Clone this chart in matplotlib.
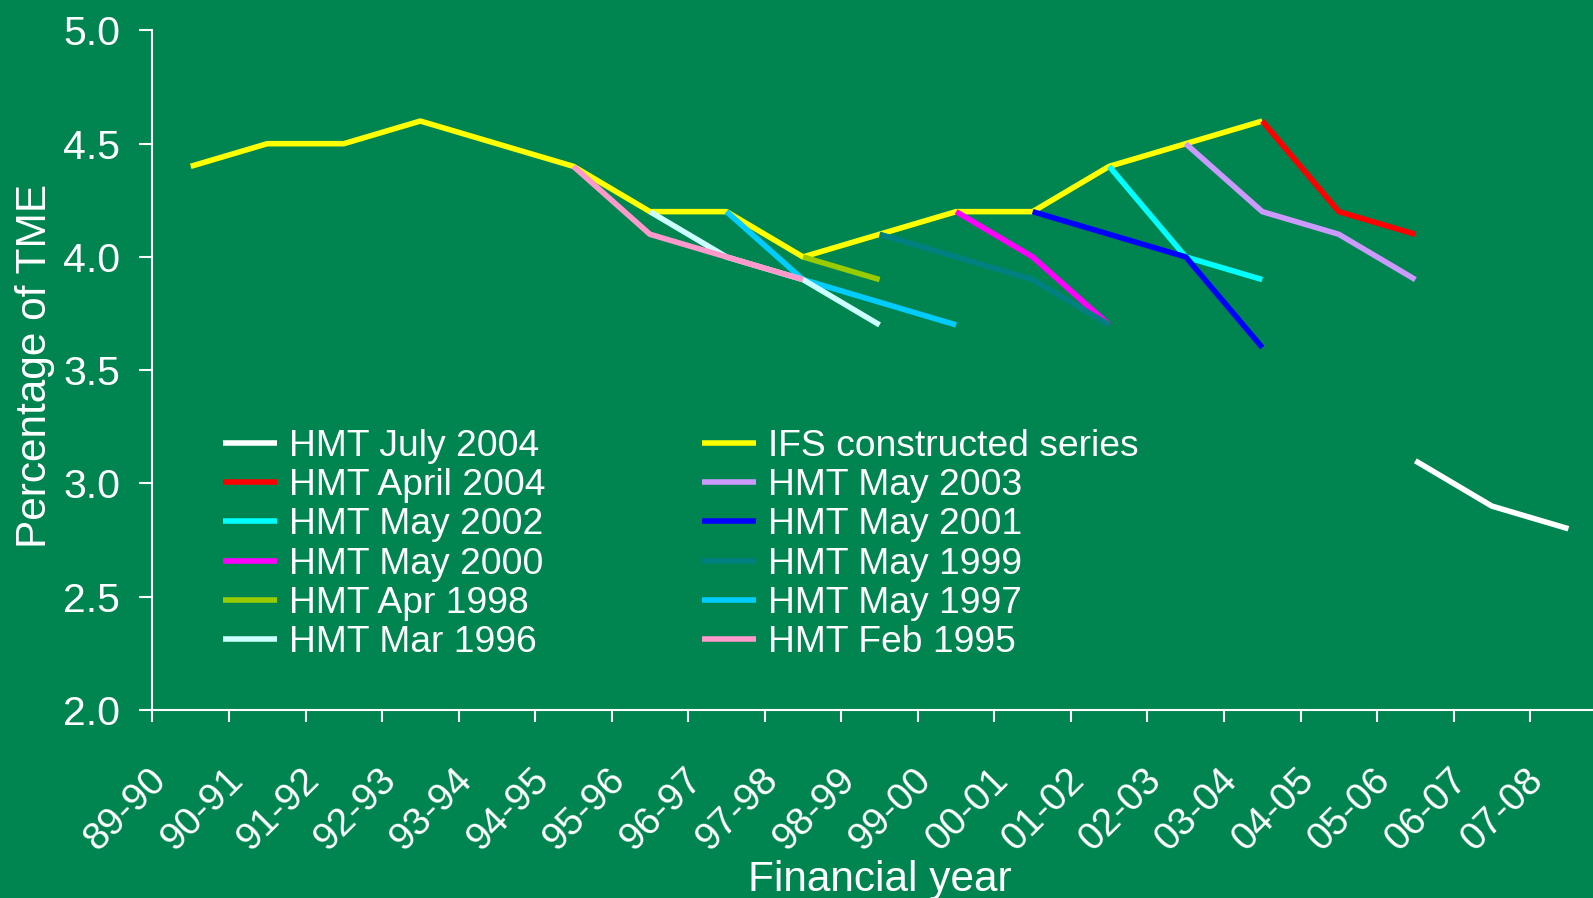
import numpy as np
import matplotlib
matplotlib.use('Agg')
import matplotlib.pyplot as plt
import matplotlib.transforms as mtrans

plt.rcParams['font.family'] = ['Liberation Sans', 'DejaVu Sans']

years = ['89-90', '90-91', '91-92', '92-93', '93-94', '94-95', '95-96', '96-97', '97-98',
         '98-99', '99-00', '00-01', '01-02', '02-03', '03-04', '04-05', '05-06', '06-07', '07-08']

jul04 = [3.1, 2.9, 2.8]
ifs = [4.4, 4.5, 4.5, 4.6, 4.5, 4.4, 4.2, 4.2, 4.0, 4.1, 4.2, 4.2, 4.4, 4.5, 4.6]
apr04 = [4.6, 4.2, 4.1]
may03 = [4.5, 4.2, 4.1, 3.9]
may02 = [4.4, 4.0, 3.9]
may01 = [4.2, 4.1, 4.0, 3.6]
may00 = [4.2, 4.0, 3.7]
may99 = [4.1, 4.0, 3.9, 3.7]
apr98 = [4.0, 3.9]
may97 = [4.2, 3.9, 3.8, 3.7]
mar96 = [4.2, 4.0, 3.9, 3.7]
feb95 = [4.4, 4.1, 4.0, 3.9]

# (label, first year, values, colour) in drawing order - later ones sit on top
series = [
    ('HMT July 2004', '05-06', jul04, '#FFFFFF'),
    ('IFS constructed series', '89-90', ifs, '#FFFF00'),
    ('HMT April 2004', '03-04', apr04, '#FF0000'),
    ('HMT May 2003', '02-03', may03, '#CC99FF'),
    ('HMT May 2002', '01-02', may02, '#00FFFF'),
    ('HMT May 2001', '00-01', may01, '#0000FF'),
    ('HMT May 2000', '99-00', may00, '#FF00FF'),
    ('HMT May 1999', '98-99', may99, '#008080'),
    ('HMT Apr 1998', '97-98', apr98, '#99CC00'),
    ('HMT May 1997', '96-97', may97, '#00CCFF'),
    ('HMT Mar 1996', '95-96', mar96, '#CCFFFF'),
    ('HMT Feb 1995', '94-95', feb95, '#FF99CC'),
]

bg = '#008450'
fig = plt.figure(figsize=(15.93, 8.98), dpi=100, facecolor=bg)
ax = fig.add_axes([0.0957, 0.2094, 0.9129, 0.7567])
ax.set_facecolor(bg)

lines = {}
for label, start, vals, col in series:
    i0 = years.index(start)
    x = np.arange(i0, i0 + len(vals))
    ln, = ax.plot(x, vals, color=col, lw=4.0, label=label, solid_capstyle='butt')
    lines[label] = ln

ax.set_xlim(-0.5, len(years) - 0.5)
ax.set_ylim(2.0, 5.0)
yt = np.arange(2.0, 5.01, 0.5)
ax.set_yticks(yt)
ax.set_yticklabels(['%.1f' % v for v in yt])
ax.set_xticks(np.arange(len(years) + 1) - 0.5)
ax.set_xticklabels([])

# rotated category labels, placed like Excel does (end of text left of the centre)
base = ax.get_xaxis_transform()
off = mtrans.ScaledTranslation(-0.43, -0.52, fig.dpi_scale_trans)
for i, yr in enumerate(years):
    ax.text(i, 0, yr, transform=base + off, rotation=45, rotation_mode='anchor',
            ha='right', va='top', fontsize=28, color='white', clip_on=False)

for s in ['top', 'right']:
    ax.spines[s].set_visible(False)
for s in ['left', 'bottom']:
    ax.spines[s].set_color('white')
    ax.spines[s].set_linewidth(1.5)

ax.tick_params(axis='x', length=8.6, width=1.5, color='white')
ax.tick_params(axis='y', length=9.6, width=1.5, color='white', labelsize=29.5,
               labelcolor='white', pad=13.5)

ax.set_xlabel('Financial year', fontsize=30.5, color='white', va='baseline')
ax.xaxis.set_label_coords(0.5, -0.2664)
ax.set_ylabel('Percentage of TME', fontsize=30.5, color='white')
ax.yaxis.set_label_coords(-0.067, 0.506)

order = ['HMT July 2004', 'HMT April 2004', 'HMT May 2002', 'HMT May 2000', 'HMT Apr 1998',
         'HMT Mar 1996', 'IFS constructed series', 'HMT May 2003', 'HMT May 2001',
         'HMT May 1999', 'HMT May 1997', 'HMT Feb 1995']
leg = fig.legend([lines[k] for k in order], order, ncol=2, loc='upper left',
                 bbox_to_anchor=(0.14, 0.5223), frameon=False, fontsize=26.8,
                 handlelength=1.45, handletextpad=0.32, columnspacing=4.2,
                 labelspacing=0.114, borderpad=0, borderaxespad=0)
for t in leg.get_texts():
    t.set_color('white')

fig.savefig('out.png', dpi=100, facecolor=bg)
